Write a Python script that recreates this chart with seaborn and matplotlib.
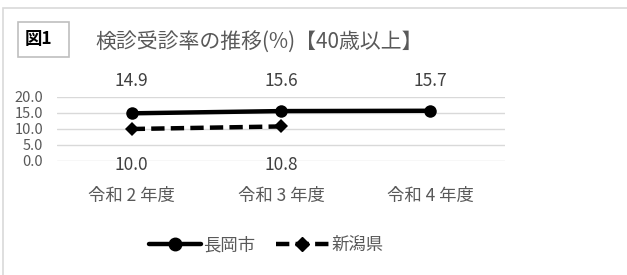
import pandas as pd
import matplotlib
matplotlib.use("Agg")
import matplotlib.pyplot as plt
import seaborn as sns
from matplotlib.patches import Rectangle
from matplotlib.lines import Line2D

# === Data ===
years = ["令和 2 年度", "令和 3 年度", "令和 4 年度"]
nagaoka = [14.9, 15.6, 15.7]
niigata_years = ["令和 2 年度", "令和 3 年度"]
niigata = [10.0, 10.8]
yticks = [0.0, 5.0, 10.0, 15.0, 20.0]

sns.set_style("white")
plt.rcParams['font.family'] = ['Noto Sans CJK JP', 'DejaVu Sans']

GRAY = "#595959"
LW = 3.2
DASH = (3.0, 1.4)

df = pd.concat([
    pd.DataFrame({"year": years, "rate": nagaoka, "area": "長岡市"}),
    pd.DataFrame({"year": niigata_years, "rate": niigata, "area": "新潟県"}),
])
df["x"] = df["year"].map({y: i for i, y in enumerate(years)})

fig = plt.figure(figsize=(6.27, 2.75), dpi=100)
ax = fig.add_axes([57 / 627, 114 / 275, 448 / 627, 64 / 275])

sns.lineplot(
    data=df, x="x", y="rate", hue="area", style="area",
    palette={"長岡市": "black", "新潟県": "black"},
    markers={"長岡市": "o", "新潟県": "D"},
    dashes={"長岡市": "", "新潟県": DASH},
    markersize=9, linewidth=LW, markeredgewidth=0,
    legend=False, ax=ax
)
# smaller diamond for 新潟県
for ln in ax.get_lines():
    if ln.get_marker() == "D":
        ln.set_markersize(7)

ax.set_xlim(-0.5, 2.5)
ax.set_ylim(0, 20)
ax.set_xticks(range(len(years)))
ax.set_xticklabels(years, fontsize=12.5, color=GRAY)
ax.set_yticks(yticks)
ax.set_yticklabels([f"{v:.1f}" for v in yticks], fontsize=10.5, color=GRAY)
ax.tick_params(axis="x", length=0, pad=19)
ax.tick_params(axis="y", length=0, pad=10)
ax.set_xlabel("")
ax.set_ylabel("")
ax.grid(True, axis="y", color="#d9d9d9", linewidth=1)
ax.set_axisbelow(True)
for s in ax.spines.values():
    s.set_visible(False)

# data labels
trans = ax.get_xaxis_transform()
for i, v in enumerate(nagaoka):
    ax.text(i, 1.25, f"{v:.1f}", transform=trans, ha="center", va="center",
            fontsize=12.5, color="#404040")
for i, v in enumerate(niigata):
    ax.text(i, -0.06, f"{v:.1f}", transform=trans, ha="center", va="center",
            fontsize=12.5, color="#404040")

# title and figure tag
fig.text(259 / 627, 1 - 43 / 275, "検診受診率の推移(%)【40歳以上】",
         ha="center", va="center", fontsize=15, color=GRAY)
fig.patches.append(Rectangle((18 / 627, 1 - 57 / 275), 51 / 627, 35 / 275,
                             transform=fig.transFigure, facecolor="white",
                             edgecolor="#bfbfbf", linewidth=1.2))
fig.text(38 / 627, 1 - 39 / 275, "図1", ha="center", va="center",
         fontsize=12.5, color="black", fontweight="bold")

# outer chart border
fig.patches.append(Rectangle((3 / 627, -0.1), 1.0, 1 - 8 / 275 + 0.1,
                             transform=fig.transFigure, facecolor="none",
                             edgecolor="#d9d9d9", linewidth=1.2))

# legend
handles = [
    Line2D([], [], color="black", lw=LW, marker="o", markersize=9),
    Line2D([], [], color="black", lw=LW, ls=(0, DASH), marker="D", markersize=7),
]
leg = fig.legend(handles, ["長岡市", "新潟県"], loc="center",
                 bbox_to_anchor=(266 / 627, 1 - 245 / 275), ncol=2,
                 frameon=False, fontsize=12.5, handlelength=3.0,
                 handletextpad=0.15, columnspacing=1.2)
for t in leg.get_texts():
    t.set_color(GRAY)

fig.savefig("out.png", dpi=100)
